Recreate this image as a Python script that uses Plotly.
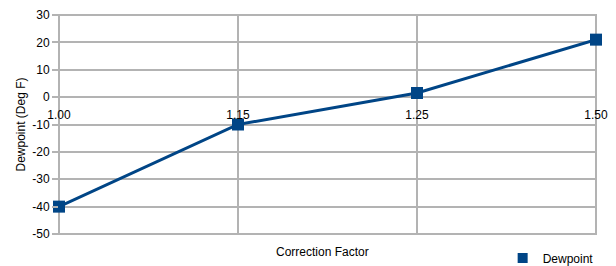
import plotly.graph_objects as go

categories = ["1.00", "1.15", "1.25", "1.50"]
dewpoint = [-40, -10, 1.5, 21]
series_name = "Dewpoint"
y_ticks = [-50, -40, -30, -20, -10, 0, 10, 20, 30]

GRID = "#b3b3b3"
BLUE = "#004586"
FONT = "Liberation Sans"

fig = go.Figure()
fig.add_trace(go.Scatter(
    x=categories, y=dewpoint, mode="lines+markers", name=series_name,
    line=dict(color=BLUE, width=3),
    marker=dict(symbol="square", size=12, color=BLUE),
    showlegend=False, cliponaxis=False,
))
fig.add_trace(go.Scatter(
    x=[None], y=[None], mode="markers", name=series_name,
    marker=dict(symbol="square", size=10, color=BLUE),
    showlegend=True,
))

y_min, y_max = y_ticks[0], y_ticks[-1]
fig.update_layout(
    width=616, height=266,
    margin=dict(l=59, r=20, t=15, b=32, autoexpand=False),
    paper_bgcolor="white", plot_bgcolor="white",
    font=dict(family=FONT, size=12, color="black"),
    xaxis=dict(
        type="category", range=[0, len(categories) - 1],
        showgrid=True, gridcolor=GRID, gridwidth=2,
        showline=False, zeroline=False, ticks="",
        anchor="free", position=(0 - y_min) / (y_max - y_min),
        tickfont=dict(size=12), ticklabelstandoff=9, automargin=False,
    ),
    yaxis=dict(
        range=[y_min, y_max], tickvals=y_ticks,
        ticktext=[str(v) for v in y_ticks],
        showgrid=True, gridcolor=GRID, gridwidth=2,
        zeroline=False, showline=False,
        ticks="outside", ticklen=6, tickwidth=2, tickcolor=GRID,
        title=dict(text="Dewpoint (Deg F)", font=dict(size=12), standoff=4),
        tickfont=dict(size=12), automargin=False,
    ),
    legend=dict(
        orientation="h", xref="container", yref="container",
        x=0.816, xanchor="left", y=0.03, yanchor="middle",
        font=dict(size=12), itemwidth=30, bgcolor="rgba(0,0,0,0)",
    ),
    shapes=[dict(
        type="rect", xref="paper", yref="paper", x0=0, x1=1, y0=0, y1=1,
        line=dict(color=GRID, width=2), layer="below",
    )],
    annotations=[dict(
        text="Correction Factor", xref="paper", yref="paper",
        x=0.49, y=-0.04, xanchor="center", yanchor="top",
        showarrow=False, font=dict(size=12),
    )],
)

fig.write_html(
    "out.html",
    config={"displayModeBar": False},
    post_script="document.body.style.margin='0';document.body.style.overflow='hidden';",
)
